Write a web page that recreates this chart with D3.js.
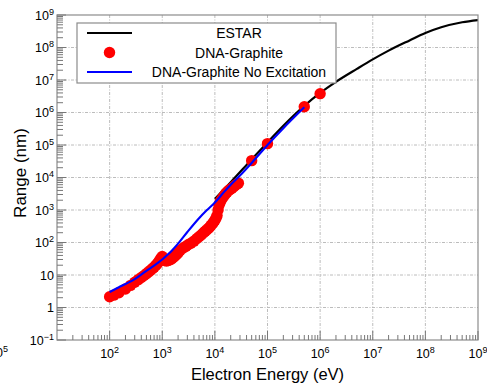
<!DOCTYPE html>
<html><head><meta charset="utf-8">
<script src="https://cdn.jsdelivr.net/npm/d3@7"></script>
<style>
body{margin:0;background:#fff}
svg{display:block}
text{font-family:"Liberation Sans",Arial,Helvetica,sans-serif;fill:#000}
</style>
</head><body>
<svg id="c" width="487" height="384"></svg>
<script>
// ---- data ----
const estarE = [1e4, 2e4, 5e4, 1e5, 2e5, 5e5, 1e6, 2e6, 5e6, 1e7, 2e7, 5e7, 1e8, 2e8, 5e8, 1e9];
const estarR = [2.2e3, 7.2e3, 3.6e4, 1.2e5, 3.9e5, 1.6e6, 4.0e6, 8.8e6, 2.2e7, 4.3e7, 8.0e7, 1.65e8, 2.8e8, 4.2e8, 6.0e8, 7.0e8];

const dnaE = [100, 120, 150, 200, 250, 300, 350, 400, 450, 500, 550, 600, 650, 700, 750, 800, 850, 900, 950, 1000,
  1050, 1100, 1200, 1300, 1400, 1500, 1600, 1700, 1850, 2000, 2200, 2500, 2800, 3100, 3500, 4000, 4500, 5000, 5500,
  6000, 6500, 7000, 7500, 8000, 8500, 9000, 9500, 10000, 10500, 11000, 11500, 12000, 12500, 13000, 14000, 15000,
  16000, 17000, 18000, 19500, 21000, 22500, 24000, 26000, 28000,
  50000, 100000, 500000, 1000000];
const dnaR = [2.15, 2.4, 2.85, 3.7, 4.8, 6.0, 7.2, 8.4, 9.6, 11, 12.5, 14, 15.7, 17.5, 19.5, 22, 25, 29, 33, 37,
  31, 28, 27, 28, 29.5, 31, 34, 37, 42, 48, 58, 68, 76, 85, 95, 110, 130, 150, 170,
  195, 220, 245, 270, 300, 340, 380, 430, 480, 560, 680, 1000, 1400, 1700, 1950, 2350, 2750,
  3200, 3550, 3900, 4300, 4650, 5100, 5600, 6200, 6700,
  3.3e4, 1.1e5, 1.5e6, 3.8e6];

const noExcE = [100, 150, 200, 300, 500, 700, 850, 1000, 1200, 1500, 2000, 3000, 5000, 7000, 1e4, 1.5e4, 2e4, 3e4, 5e4, 1e5, 2e5, 5e5];
const noExcR = [3.0, 4.2, 5.3, 7.5, 13.5, 19.5, 24.5, 30, 39, 55, 92, 210, 560, 980, 1700, 3600, 6000, 1.15e4, 2.8e4, 1.0e5, 3.3e5, 1.45e6];

const xTickValues = [1e2, 1e3, 1e4, 1e5, 1e6, 1e7, 1e8, 1e9];
const xTickLabels = ["10^2", "10^3", "10^4", "10^5", "10^6", "10^7", "10^8", "10^9"];
const yTickValues = [1e-1, 1, 10, 1e2, 1e3, 1e4, 1e5, 1e6, 1e7, 1e8, 1e9];
const yTickLabels = ["10^\u22121", "1", "10", "10^2", "10^3", "10^4", "10^5", "10^6", "10^7", "10^8", "10^9"];
const seriesNames = ["ESTAR", "DNA-Graphite", "DNA-Graphite No Excitation"];

// ---- layout ----
const svg = d3.select("#c");
const X0 = 57, X1 = 478, Y0 = 340, Y1 = 15;
const x = d3.scaleLog().domain([1e1, 1e9]).range([X0, X1]);
const y = d3.scaleLog().domain([1e-1, 1e9]).range([Y0, Y1]);

function addLabel(sel, str, supSize) {
  const parts = str.split("^");
  sel.append("tspan").text(parts[0]);
  if (parts.length > 1) {
    sel.append("tspan").attr("dy", -5).attr("font-size", supSize).text(parts[1]);
  }
}

// grid
const grid = svg.append("g").attr("stroke", "#b4b4b4").attr("stroke-width", 0.9)
  .attr("stroke-dasharray", "3,1.5,1,1.5").attr("fill", "none");
xTickValues.slice(0, -1).forEach(v => grid.append("line")
  .attr("x1", x(v)).attr("x2", x(v)).attr("y1", Y0).attr("y2", Y1));
yTickValues.slice(1, -1).forEach(v => grid.append("line")
  .attr("x1", X0).attr("x2", X1).attr("y1", y(v)).attr("y2", y(v)));

// clip for data
svg.append("clipPath").attr("id", "pc").append("rect")
  .attr("x", X0).attr("y", Y1).attr("width", X1 - X0).attr("height", Y0 - Y1);
const plot = svg.append("g").attr("clip-path", "url(#pc)");

const line = d3.line().x(d => x(d[0])).y(d => y(d[1])).curve(d3.curveMonotoneX);

plot.append("path").datum(estarE.map((e, i) => [e, estarR[i]]))
  .attr("d", line).attr("fill", "none").attr("stroke", "#000").attr("stroke-width", 2.2);

plot.append("g").selectAll("circle").data(dnaE.map((e, i) => [e, dnaR[i]])).join("circle")
  .attr("cx", d => x(d[0])).attr("cy", d => y(d[1])).attr("r", 5.7).attr("fill", "#ff0000");

plot.append("path").datum(noExcE.map((e, i) => [e, noExcR[i]]))
  .attr("d", line).attr("fill", "none").attr("stroke", "#0000ff").attr("stroke-width", 2.1);

// frame
svg.append("rect").attr("x", X0).attr("y", Y1).attr("width", X1 - X0).attr("height", Y0 - Y1)
  .attr("fill", "none").attr("stroke", "#8c8c8c").attr("stroke-width", 1.2);

// minor & major ticks
const ticks = svg.append("g").attr("stroke", "#777").attr("stroke-width", 1);
for (let k = 1; k < 9; k++) {
  for (let m = 2; m <= 9; m++) {
    const v = m * Math.pow(10, k);
    ticks.append("line").attr("x1", x(v)).attr("x2", x(v)).attr("y1", Y0).attr("y2", Y0 - 5);
  }
}
xTickValues.forEach(v => ticks.append("line").attr("x1", x(v)).attr("x2", x(v)).attr("y1", Y0).attr("y2", Y0 - 9));
for (let k = -1; k < 9; k++) {
  for (let m = 2; m <= 9; m++) {
    const v = m * Math.pow(10, k);
    ticks.append("line").attr("x1", X0).attr("x2", X0 + 6).attr("y1", y(v)).attr("y2", y(v));
  }
}
yTickValues.forEach(v => ticks.append("line").attr("x1", X0).attr("x2", X0 + 9).attr("y1", y(v)).attr("y2", y(v)));

// tick labels
xTickValues.forEach((v, i) => {
  const t = svg.append("text").attr("x", x(v)).attr("y", 358).attr("text-anchor", "middle")
    .attr("font-size", 12.5);
  addLabel(t, xTickLabels[i], 9);
});
yTickValues.forEach((v, i) => {
  const t = svg.append("text").attr("x", 54).attr("y", y(v) + 4.5).attr("text-anchor", "end")
    .attr("font-size", 12.5);
  addLabel(t, yTickLabels[i], 9);
});

// stray fragment at bottom-left edge (partly outside the picture, as in the reference)
const frag = svg.append("text").attr("x", 8).attr("y", 357).attr("text-anchor", "end").attr("font-size", 12.5);
addLabel(frag, "10^5", 9);

// axis titles
svg.append("text").attr("x", 267.5).attr("y", 380).attr("text-anchor", "middle")
  .attr("font-size", 16.5).text("Electron Energy (eV)");
svg.append("text").attr("transform", "translate(26,173) rotate(-90)").attr("text-anchor", "middle")
  .attr("font-size", 17).text("Range (nm)");

// legend
const lg = svg.append("g");
lg.append("rect").attr("x", 77).attr("y", 23).attr("width", 259).attr("height", 60)
  .attr("fill", "#fff").attr("stroke", "#8c8c8c").attr("stroke-width", 1.2);
const ly = [33, 52.5, 72];
lg.append("line").attr("x1", 87).attr("x2", 132).attr("y1", ly[0]).attr("y2", ly[0])
  .attr("stroke", "#000").attr("stroke-width", 2.2);
lg.append("circle").attr("cx", 109.5).attr("cy", ly[1]).attr("r", 5.7).attr("fill", "#ff0000");
lg.append("line").attr("x1", 87).attr("x2", 132).attr("y1", ly[2]).attr("y2", ly[2])
  .attr("stroke", "#0000ff").attr("stroke-width", 2.1);
seriesNames.forEach((n, i) => lg.append("text").attr("x", 239).attr("y", ly[i] + 5)
  .attr("text-anchor", "middle").attr("font-size", 14).text(n));
</script>
</body></html>
